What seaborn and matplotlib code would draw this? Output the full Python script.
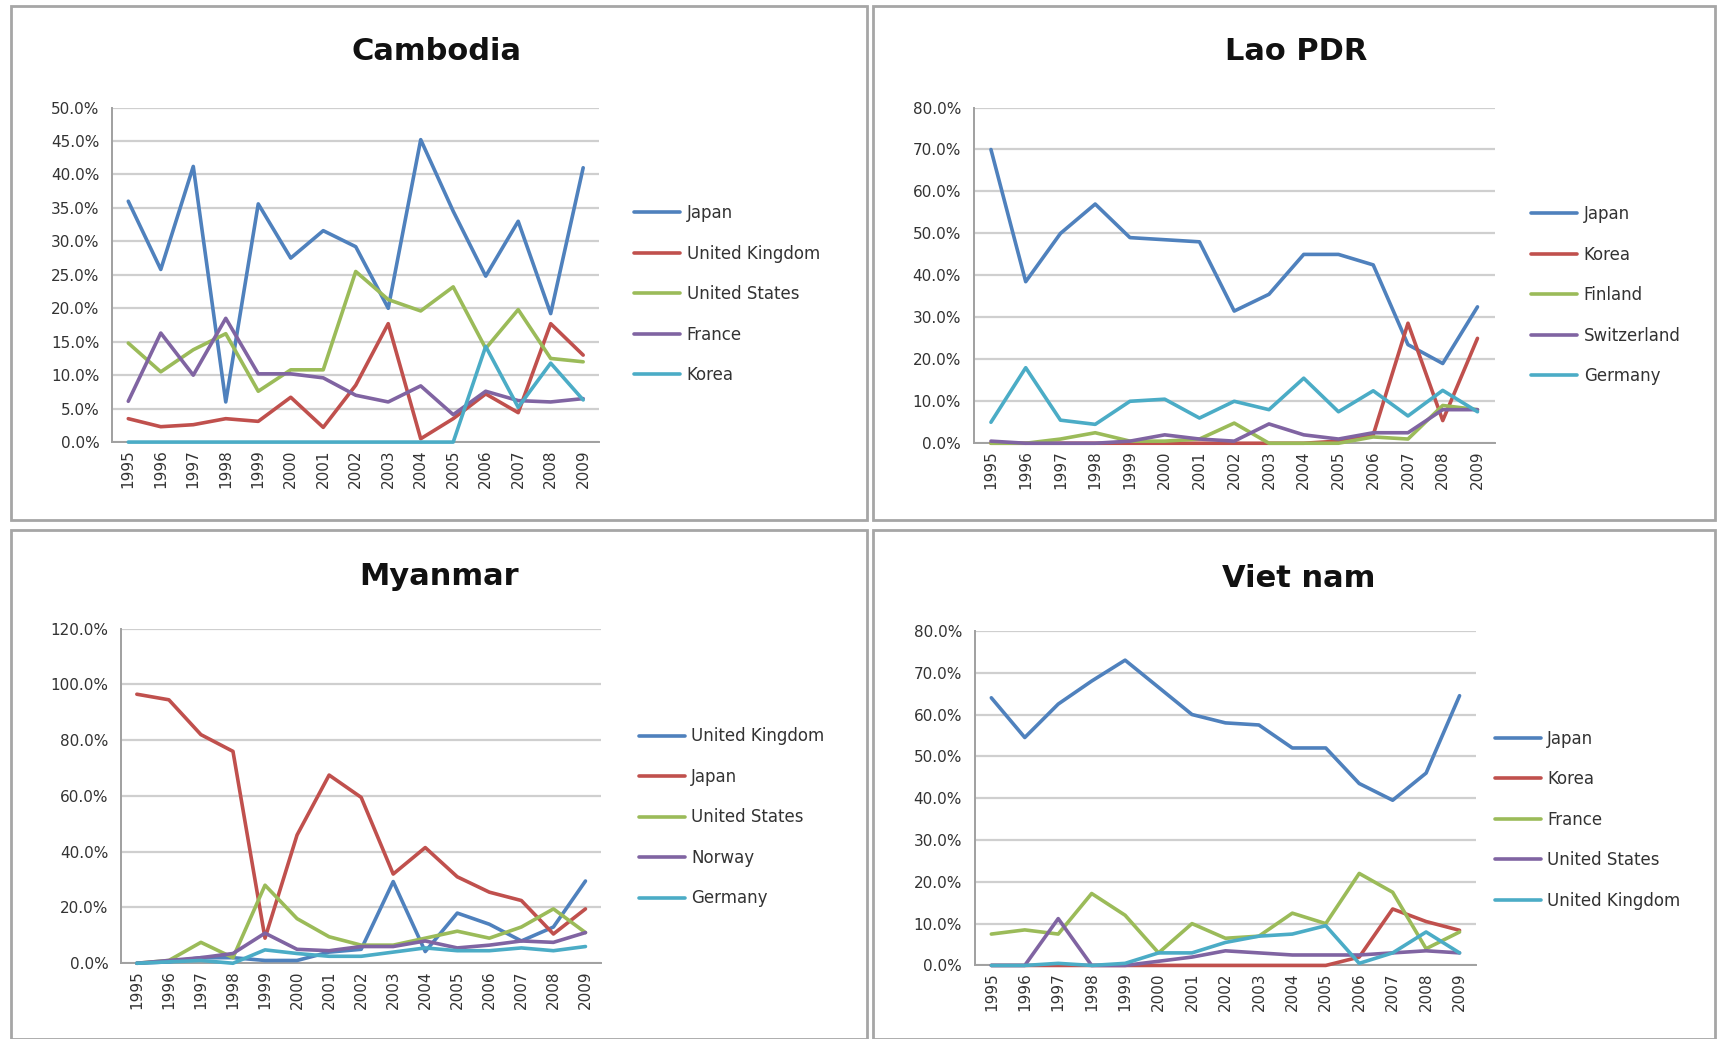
import numpy as np
import pandas as pd
import matplotlib
matplotlib.use("Agg")
import matplotlib.pyplot as plt
from matplotlib.lines import Line2D
from matplotlib.patches import Rectangle
from matplotlib.ticker import PercentFormatter, MultipleLocator
import seaborn as sns

# dane (udzial w %)
years = list(range(1995, 2010))

cambodia_partners = ["Japan", "United Kingdom", "United States", "France", "Korea"]
cambodia_japan = [36.0, 25.8, 41.2, 6.0, 35.6, 27.5, 31.6, 29.2, 20.0, 45.2, 34.5, 24.8, 33.0, 19.2, 41.0]
cambodia_uk = [3.5, 2.3, 2.6, 3.5, 3.1, 6.7, 2.2, 8.5, 17.7, 0.5, 3.5, 7.2, 4.4, 17.7, 13.0]
cambodia_us = [14.8, 10.5, 13.8, 16.2, 7.6, 10.8, 10.8, 25.5, 21.3, 19.6, 23.2, 14.0, 19.8, 12.5, 12.0]
cambodia_france = [6.1, 16.3, 10.0, 18.5, 10.2, 10.2, 9.6, 7.0, 6.0, 8.4, 4.1, 7.6, 6.2, 6.0, 6.5]
cambodia_korea = [0, 0, 0, 0, 0, 0, 0, 0, 0, 0, 0, 14.3, 5.2, 11.8, 6.3]

lao_partners = ["Japan", "Korea", "Finland", "Switzerland", "Germany"]
lao_japan = [70.0, 38.5, 50.0, 57.0, 49.0, 48.5, 48.0, 31.5, 35.5, 45.0, 45.0, 42.5, 23.5, 19.0, 32.5]
lao_korea = [0, 0, 0, 0, 0, 0, 0, 0, 0, 0, 0.5, 2.0, 28.6, 5.4, 25.0]
lao_finland = [0, 0, 1.0, 2.5, 0.5, 0.5, 1.0, 4.8, 0, 0, 0, 1.5, 1.0, 9.0, 8.0]
lao_switzerland = [0.5, 0, 0, 0, 0.5, 2.0, 1.0, 0.5, 4.6, 2.0, 1.0, 2.5, 2.5, 8.0, 8.0]
lao_germany = [5.0, 18.0, 5.5, 4.5, 10.0, 10.5, 6.0, 10.0, 8.0, 15.5, 7.5, 12.5, 6.5, 12.6, 7.5]

myanmar_partners = ["United Kingdom", "Japan", "United States", "Norway", "Germany"]
myanmar_uk = [0, 0.5, 2.0, 2.0, 1.0, 1.0, 4.0, 5.0, 29.3, 4.2, 18.0, 14.0, 8.0, 13.0, 29.5]
myanmar_japan = [96.5, 94.5, 82.0, 76.0, 9.0, 46.0, 67.5, 59.5, 32.0, 41.5, 31.0, 25.5, 22.5, 10.5, 19.5]
myanmar_us = [0, 1.0, 7.5, 2.0, 28.0, 16.0, 9.5, 6.5, 6.5, 9.0, 11.5, 9.0, 13.0, 19.5, 11.0]
myanmar_norway = [0, 1.0, 2.0, 3.5, 10.8, 5.0, 4.5, 6.0, 6.0, 8.0, 5.5, 6.5, 8.0, 7.5, 11.0]
myanmar_germany = [0, 0.5, 1.0, 0, 4.8, 3.5, 2.5, 2.5, 4.0, 5.5, 4.5, 4.5, 5.5, 4.5, 6.0]

vietnam_partners = ["Japan", "Korea", "France", "United States", "United Kingdom"]
vietnam_japan = [64.0, 54.5, 62.5, 68.0, 73.0, 66.5, 60.0, 58.0, 57.5, 52.0, 52.0, 43.5, 39.5, 46.0, 64.5]
vietnam_korea = [0, 0, 0, 0, 0, 0, 0, 0, 0, 0, 0, 2.0, 13.5, 10.5, 8.4]
vietnam_france = [7.5, 8.5, 7.5, 17.2, 12.0, 3.0, 10.0, 6.5, 7.0, 12.5, 10.0, 22.0, 17.5, 4.0, 8.0]
vietnam_us = [0, 0, 11.2, 0, 0, 1.0, 2.0, 3.5, 3.0, 2.5, 2.5, 2.5, 3.0, 3.5, 3.0]
vietnam_uk = [0, 0, 0.5, 0, 0.5, 3.0, 3.0, 5.5, 7.0, 7.5, 9.5, 0.5, 3.0, 8.0, 3.0]

colors = ["#4F81BD", "#C0504D", "#9BBB59", "#8064A2", "#4BACC6"]


def long_df(partners, series):
    rows = []
    for p, vals in zip(partners, series):
        for y, v in zip(years, vals):
            rows.append({"year": y, "partner": p, "share": v / 100})
    return pd.DataFrame(rows)


panels = [
    ("Cambodia", cambodia_partners,
     [cambodia_japan, cambodia_uk, cambodia_us, cambodia_france, cambodia_korea],
     0.5, 0.05, [0.0651, 0.5745, 0.2832, 0.3220], (0.3686, 0.8036), (0.2538, 0.950)),
    ("Lao PDR", lao_partners,
     [lao_japan, lao_korea, lao_finland, lao_switzerland, lao_germany],
     0.8, 0.1, [0.5657, 0.5734, 0.3029, 0.3231], (0.8897, 0.8025), (0.7532, 0.950)),
    ("Myanmar", myanmar_partners,
     [myanmar_uk, myanmar_japan, myanmar_us, myanmar_norway, myanmar_germany],
     1.2, 0.2, [0.0702, 0.0729, 0.2793, 0.3220], (0.3712, 0.2999), (0.2551, 0.4456)),
    ("Viet nam", vietnam_partners,
     [vietnam_japan, vietnam_korea, vietnam_france, vietnam_us, vietnam_uk],
     0.8, 0.1, [0.5663, 0.0708, 0.2915, 0.3220], (0.8686, 0.2978), (0.7545, 0.4435)),
]

sns.set_style("white")
plt.rcParams["font.family"] = ["DejaVu Sans"]

fig = plt.figure(figsize=(17.21, 10.39), dpi=100)

# ramki paneli
for x0, y0, w, h in [(0.0064, 0.5000, 0.4974, 0.4947), (0.5070, 0.5000, 0.4898, 0.4947),
                     (0.0064, 0.0000, 0.4974, 0.4900), (0.5070, 0.0000, 0.4898, 0.4900)]:
    fig.patches.append(Rectangle((x0, y0), w, h, transform=fig.transFigure,
                                 fill=False, edgecolor="#a6a6a6", linewidth=2))

for title, partners, series, ymax, ystep, pos, leg_xy, title_xy in panels:
    ax = fig.add_axes(pos)
    df = long_df(partners, series)
    sns.lineplot(data=df, x="year", y="share", hue="partner", hue_order=partners,
                 palette=colors, linewidth=2.6, legend=False, ax=ax)
    # linie na zerze maja byc widoczne nad osia
    for ln in ax.get_lines():
        ln.set_clip_on(False)
        ln.set_zorder(3)
    ax.set_xlim(1994.5, 2009.5)
    ax.set_ylim(0, ymax)
    ax.set_xticks(years)
    ax.set_xticklabels([str(y) for y in years], rotation=90, fontsize=11, color="#333333")
    ax.yaxis.set_major_locator(MultipleLocator(ystep))
    ax.yaxis.set_major_formatter(PercentFormatter(1.0, decimals=1))
    ax.tick_params(axis="y", labelsize=11, labelcolor="#333333", length=5,
                   color="#a0a0a0", width=1.2, pad=4)
    ax.tick_params(axis="x", length=0, pad=5)
    ax.grid(axis="y", color="#cfcfcf", linewidth=1.6)
    ax.set_axisbelow(True)
    ax.set_xlabel("")
    ax.set_ylabel("")
    for s in ["top", "right"]:
        ax.spines[s].set_visible(False)
    for s in ["left", "bottom"]:
        ax.spines[s].set_color("#a0a0a0")
        ax.spines[s].set_linewidth(1.4)
        ax.spines[s].set_zorder(1)

    handles = [Line2D([], [], color=c, linewidth=2.6) for c in colors]
    ax.legend(handles, partners, loc="upper left", bbox_to_anchor=leg_xy,
              bbox_transform=fig.transFigure, frameon=False, fontsize=12,
              handlelength=2.75, handletextpad=0.4, labelspacing=1.35,
              borderpad=0, borderaxespad=0, labelcolor="#333333")

    fig.text(title_xy[0], title_xy[1], title, ha="center", va="center",
             fontsize=22, fontweight="bold", color="#111111")

fig.savefig("out.png", dpi=100)
